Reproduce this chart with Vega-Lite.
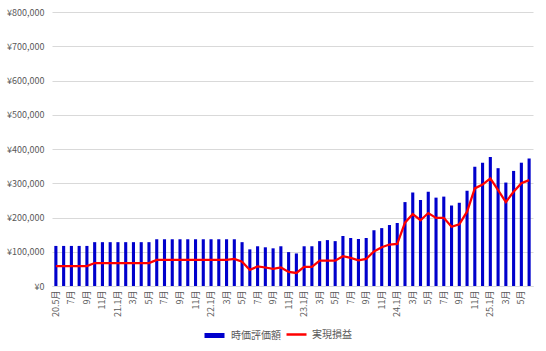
{
  "$schema": "https://vega.github.io/schema/vega-lite/v6.json",
  "width": 481,
  "height": 274,
  "autosize": "none",
  "padding": {"left": 52, "top": 12, "right": 13, "bottom": 65},
  "background": "white",
  "config": {
    "font": "Noto Sans CJK JP",
    "view": {"stroke": null},
    "axis": {"labelColor": "#595959", "labelFont": "Noto Sans CJK JP", "labelFontSize": 9, "ticks": false, "domain": false, "gridColor": "#D9D9D9", "gridWidth": 1},
    "legend": {"labelColor": "#595959", "labelFontSize": 10, "labelFont": "Noto Sans CJK JP"}
  },
  "data": {
    "values": [
      {"ym": "20.5月", "v": 117000, "pl": 58000},
      {"ym": "20.6月", "v": 117000, "pl": 58000},
      {"ym": "20.7月", "v": 117000, "pl": 58000},
      {"ym": "20.8月", "v": 117000, "pl": 58000},
      {"ym": "20.9月", "v": 117000, "pl": 58000},
      {"ym": "20.10月", "v": 128000, "pl": 67000},
      {"ym": "20.11月", "v": 128000, "pl": 67000},
      {"ym": "20.12月", "v": 128000, "pl": 67000},
      {"ym": "21.1月", "v": 128000, "pl": 67000},
      {"ym": "21.2月", "v": 128000, "pl": 67000},
      {"ym": "21.3月", "v": 128000, "pl": 67000},
      {"ym": "21.4月", "v": 128000, "pl": 67000},
      {"ym": "21.5月", "v": 128000, "pl": 67000},
      {"ym": "21.6月", "v": 136500, "pl": 76000},
      {"ym": "21.7月", "v": 136500, "pl": 76000},
      {"ym": "21.8月", "v": 136500, "pl": 76000},
      {"ym": "21.9月", "v": 136500, "pl": 76000},
      {"ym": "21.10月", "v": 136500, "pl": 76000},
      {"ym": "21.11月", "v": 136500, "pl": 76000},
      {"ym": "21.12月", "v": 136500, "pl": 76000},
      {"ym": "22.1月", "v": 136500, "pl": 76000},
      {"ym": "22.2月", "v": 136500, "pl": 76000},
      {"ym": "22.3月", "v": 136500, "pl": 76000},
      {"ym": "22.4月", "v": 136500, "pl": 79000},
      {"ym": "22.5月", "v": 128000, "pl": 71000},
      {"ym": "22.6月", "v": 107000, "pl": 47000},
      {"ym": "22.7月", "v": 116000, "pl": 57000},
      {"ym": "22.8月", "v": 113000, "pl": 54000},
      {"ym": "22.9月", "v": 110000, "pl": 50000},
      {"ym": "22.10月", "v": 116000, "pl": 54000},
      {"ym": "22.11月", "v": 99000, "pl": 41000},
      {"ym": "22.12月", "v": 95000, "pl": 38000},
      {"ym": "23.1月", "v": 116000, "pl": 56000},
      {"ym": "23.2月", "v": 116000, "pl": 56000},
      {"ym": "23.3月", "v": 131000, "pl": 74000},
      {"ym": "23.4月", "v": 134000, "pl": 74000},
      {"ym": "23.5月", "v": 131000, "pl": 74000},
      {"ym": "23.6月", "v": 146000, "pl": 87000},
      {"ym": "23.7月", "v": 140000, "pl": 82000},
      {"ym": "23.8月", "v": 137000, "pl": 75000},
      {"ym": "23.9月", "v": 140000, "pl": 79000},
      {"ym": "23.10月", "v": 163000, "pl": 101000},
      {"ym": "23.11月", "v": 169000, "pl": 113000},
      {"ym": "23.12月", "v": 178000, "pl": 121000},
      {"ym": "24.1月", "v": 184000, "pl": 123000},
      {"ym": "24.2月", "v": 245000, "pl": 185000},
      {"ym": "24.3月", "v": 273000, "pl": 210000},
      {"ym": "24.4月", "v": 251000, "pl": 192000},
      {"ym": "24.5月", "v": 275000, "pl": 213000},
      {"ym": "24.6月", "v": 258000, "pl": 199000},
      {"ym": "24.7月", "v": 261000, "pl": 199000},
      {"ym": "24.8月", "v": 235000, "pl": 173000},
      {"ym": "24.9月", "v": 243000, "pl": 180000},
      {"ym": "24.10月", "v": 278000, "pl": 217000},
      {"ym": "24.11月", "v": 348000, "pl": 285000},
      {"ym": "24.12月", "v": 360000, "pl": 296000},
      {"ym": "25.1月", "v": 377000, "pl": 314000},
      {"ym": "25.2月", "v": 344000, "pl": 280000},
      {"ym": "25.3月", "v": 302000, "pl": 245000},
      {"ym": "25.4月", "v": 336000, "pl": 275000},
      {"ym": "25.5月", "v": 360000, "pl": 300000},
      {"ym": "25.6月", "v": 372000, "pl": 309000}
    ]
  },
  "encoding": {
    "x": {
      "field": "ym",
      "type": "ordinal",
      "sort": null,
      "scale": {"paddingInner": 0.6, "paddingOuter": 0.3},
      "axis": {
        "title": null,
        "labelAngle": -90,
        "labelPadding": 4,
        "domain": true,
        "domainColor": "#D9D9D9",
        "grid": false,
        "labelExpr": "(toNumber(slice(datum.value, 3, -1)) % 2 == 1) ? ((slice(datum.value, 3, -1) == '1' || datum.value == '20.5月') ? datum.value : slice(datum.value, 3)) : ''"
      }
    }
  },
  "layer": [
    {
      "mark": {"type": "bar"},
      "encoding": {
        "y": {
          "field": "v",
          "type": "quantitative",
          "scale": {"domain": [0, 800000]},
          "axis": {"title": null, "values": [0, 100000, 200000, 300000, 400000, 500000, 600000, 700000, 800000], "labelOverlap": false, "labelExpr": "'¥' + format(datum.value, ',')", "labelPadding": 8}
        },
        "color": {
          "datum": "時価評価額",
          "type": "nominal",
          "scale": {"domain": ["時価評価額"], "range": ["#0000CC"]},
          "legend": {
            "title": null,
            "orient": "none",
            "legendX": 150,
            "legendY": 311,
            "symbolType": "stroke",
            "symbolStrokeColor": "#0000CC",
            "symbolStrokeWidth": 5,
            "symbolSize": 400
          }
        }
      }
    },
    {
      "mark": {"type": "line", "strokeWidth": 2.25},
      "encoding": {
        "y": {
          "field": "pl",
          "type": "quantitative",
          "scale": {"domain": [0, 800000]},
          "axis": {"title": null, "values": [0, 100000, 200000, 300000, 400000, 500000, 600000, 700000, 800000], "labelOverlap": false, "labelExpr": "'¥' + format(datum.value, ',')", "labelPadding": 8}
        },
        "stroke": {
          "datum": "実現損益",
          "type": "nominal",
          "scale": {"domain": ["実現損益"], "range": ["#FF0000"]},
          "legend": {
            "title": null,
            "orient": "none",
            "legendX": 233,
            "legendY": 311,
            "symbolType": "stroke",
            "symbolStrokeWidth": 2.5,
            "symbolSize": 400
          }
        }
      }
    }
  ]
}
